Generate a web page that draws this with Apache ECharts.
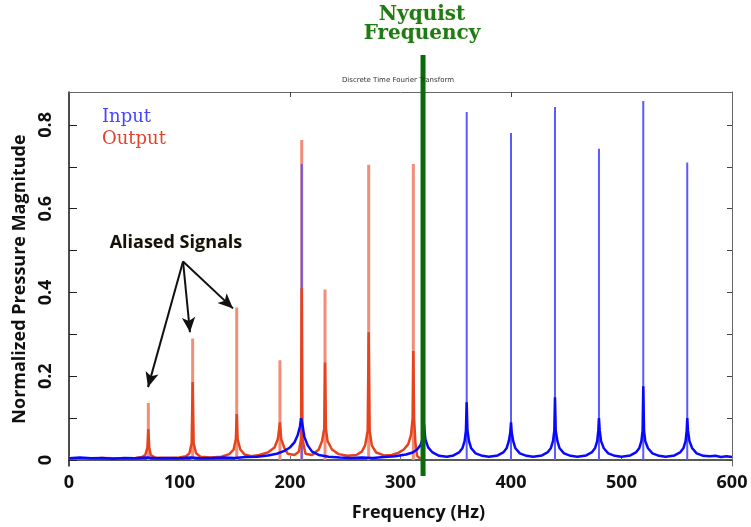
<!DOCTYPE html>
<html><head><meta charset="utf-8">
<script src="https://cdn.jsdelivr.net/npm/echarts@6/dist/echarts.min.js"></script>
<style>html,body{margin:0;padding:0;background:#fff}#c{width:751px;height:527px}</style>
</head><body><div id="c"></div>
<script>
// ---- data ----
const xTickValues = [0, 100, 200, 300, 400, 500, 600];
const yLabelValues = [0, 0.2, 0.4, 0.6, 0.8];
const yTickValues = [0, 0.1, 0.2, 0.3, 0.4, 0.5, 0.6, 0.7, 0.8];
const topTickValues = [200, 400];

const nyquistFreq = 320.4;

// thin spikes (full peak height)
const inputPeakFreq = [210.6, 359.9, 400.0, 439.8, 479.6, 519.7, 559.5];
const inputPeakMag  = [0.707, 0.831, 0.781, 0.843, 0.743, 0.857, 0.710];
const outputPeakFreq = [71.8, 111.9, 151.8, 190.9, 210.6, 231.7, 271.2, 311.6];
const outputPeakMag  = [0.136, 0.290, 0.364, 0.238, 0.764, 0.407, 0.705, 0.707];

// thick traces: baseline, leakage skirts and lower part of each peak  [Hz, magnitude]
const inputTrace = [
  [0,0.004],[10,0.006],[20,0.004],[30,0.005],[40,0.003],[50,0.005],[60,0.004],[70,0.006],[80,0.004],
  [90,0.005],[100,0.004],[110,0.006],[120,0.004],[130,0.005],[140,0.006],[150,0.005],[160,0.007],
  [170,0.008],[180,0.011],[188,0.015],[195,0.022],[200,0.030],[204,0.042],[207,0.060],[209,0.080],
  [210,0.100],[210.6,0.100],[211.5,0.080],[213,0.055],[216,0.035],[220,0.020],[226,0.012],[235,0.008],
  [245,0.006],[255,0.005],[265,0.006],[275,0.005],[285,0.007],[295,0.009],[305,0.013],[311,0.018],
  [315,0.025],[318,0.035],[320,0.050],[321.3,0.085],[322.5,0.050],[325,0.030],[329,0.018],[335,0.010],
  [342,0.008],[348,0.011],[353,0.018],[356,0.028],[358,0.045],[359.2,0.070],[359.9,0.138],[360.6,0.070],
  [362,0.045],[364,0.028],[368,0.016],[374,0.010],[380,0.008],[388,0.011],[393,0.018],[396,0.028],
  [398,0.045],[399.3,0.065],[400,0.090],[400.7,0.065],[402,0.045],[404,0.028],[408,0.016],[414,0.010],
  [420,0.008],[428,0.011],[433,0.018],[436,0.028],[438,0.045],[439.2,0.070],[439.8,0.150],[440.5,0.070],
  [442,0.045],[444,0.028],[448,0.016],[454,0.010],[460,0.008],[468,0.011],[473,0.018],[476,0.028],
  [478,0.045],[479,0.070],[479.6,0.100],[480.3,0.070],[481.5,0.045],[484,0.028],[488,0.016],[494,0.010],
  [500,0.008],[508,0.011],[513,0.018],[516,0.028],[518,0.045],[519.1,0.070],[519.7,0.176],[520.4,0.070],
  [521.5,0.045],[524,0.028],[528,0.016],[534,0.010],[540,0.008],[548,0.011],[553,0.018],[556,0.028],
  [558,0.045],[559,0.070],[559.5,0.100],[560.2,0.070],[561.5,0.045],[564,0.028],[568,0.016],[574,0.010],
  [580,0.009],[585,0.010],[590,0.007],[595,0.009],[600,0.007]
];
const outputTrace = [
  [0,0.003],[10,0.004],[20,0.003],[30,0.005],[40,0.004],[50,0.004],[60,0.005],[66,0.007],[69,0.012],
  [71,0.030],[71.8,0.074],[72.6,0.030],[74,0.012],[78,0.006],[90,0.005],[100,0.006],[106,0.009],
  [109,0.016],[111,0.040],[111.9,0.186],[112.8,0.040],[115,0.016],[119,0.008],[128,0.006],[138,0.008],
  [145,0.014],[149,0.025],[151,0.050],[151.8,0.110],[152.6,0.050],[155,0.025],[159,0.013],[165,0.009],
  [172,0.012],[180,0.018],[186,0.030],[189,0.050],[190.9,0.090],[192,0.050],[195,0.028],[198,0.015],
  [204,0.012],[208,0.020],[210,0.050],[210.6,0.410],[211.3,0.050],[214,0.015],[220,0.012],[226,0.025],
  [229,0.045],[231,0.075],[231.7,0.233],[232.5,0.075],[234,0.045],[238,0.025],[244,0.014],[252,0.010],
  [260,0.012],[265,0.020],[268,0.035],[270.3,0.070],[271.2,0.305],[272.1,0.070],[274,0.035],[278,0.018],
  [285,0.011],[292,0.012],[298,0.017],[303,0.025],[307,0.038],[309.5,0.060],[311,0.100],[311.6,0.260],
  [312.3,0.100],[313.5,0.040],[315,0.010],[318,0.003]
];

// annotation arrows: start and end of each arrow [Hz, magnitude]
const arrowStart = [103.2, 0.474];
const arrowEnds = [[71.5, 0.174], [109.5, 0.305], [148.4, 0.362]];
const annotationPos = [96.8, 0.519];

// ---- build ----
function spikes(freqs, mags) {
  const out = [];
  freqs.forEach((f, i) => { out.push([f, 0], [f, mags[i]], [f, null]); });
  return out;
}

const chart = echarts.init(document.getElementById('c'));
const labelFont = { fontFamily: 'Open Sans', fontWeight: 'bold', color: '#111' };

chart.setOption({
  animation: false,
  backgroundColor: '#fff',
  legend: {
    orient: 'vertical', left: 92, top: 103, itemGap: 4,
    icon: 'none', itemWidth: 0, itemHeight: 14,
    selectedMode: false,
    textStyle: { fontFamily: 'DejaVu Serif', fontSize: 18 },
    data: [
      { name: 'Input', textStyle: { color: '#4646ff' } },
      { name: 'Output', textStyle: { color: '#e2432e' } }
    ]
  },
  graphic: [
    { type: 'text', x: 422, y: 5, z: 100,
      style: { text: 'Nyquist\nFrequency', align: 'center', verticalAlign: 'top',
        font: 'bold 20px "DejaVu Serif"', lineHeight: 19, fill: '#1d7a1d',
        textShadowColor: 'rgba(220,190,60,0.4)', textShadowBlur: 2 } },
    { type: 'text', x: 398, y: 77, z: 100,
      style: { text: 'Discrete Time Fourier Transform', align: 'center', verticalAlign: 'top',
        font: '7px "DejaVu Sans"', fill: '#333' } }
  ],
  grid: [
    { left: 69, right: 19, top: 92, bottom: 60 },
    { left: 69, right: 19, top: 55, bottom: 51 }
  ],
  xAxis: [
    { type: 'value', gridIndex: 0, min: 0, max: 600, interval: 100, position: 'bottom',
      name: 'Frequency (Hz)', nameLocation: 'middle', nameGap: 38,
      nameTextStyle: Object.assign({ fontSize: 18, padding: [0, 0, 0, 36] }, labelFont),
      axisLine: { lineStyle: { color: '#222', width: 1.5 } },
      axisTick: { inside: true, length: 4, lineStyle: { color: '#777' } },
      axisLabel: Object.assign({ fontSize: 18, margin: 8 }, labelFont),
      splitLine: { show: false } },
    { type: 'value', gridIndex: 0, min: 0, max: 600, position: 'top',
      axisLine: { show: true, onZero: false, lineStyle: { color: '#666', width: 1 } },
      axisTick: { show: true, inside: true, length: 5, customValues: topTickValues, lineStyle: { color: '#444' } },
      axisLabel: { show: false }, splitLine: { show: false } },
    { type: 'value', gridIndex: 1, min: 0, max: 600, show: false }
  ],
  yAxis: [
    { type: 'value', gridIndex: 0, min: -0.0143, max: 0.8786, position: 'left',
      name: 'Normalized Pressure Magnitude', nameLocation: 'middle', nameGap: 37,
      nameTextStyle: Object.assign({ fontSize: 18 }, labelFont),
      axisLine: { show: true, onZero: false, lineStyle: { color: '#111', width: 1.5 } },
      axisTick: { show: true, inside: true, length: 8, customValues: yTickValues, lineStyle: { color: '#222' } },
      axisLabel: Object.assign({ fontSize: 18, rotate: 90, margin: 14, customValues: yLabelValues }, labelFont),
      splitLine: { show: false } },
    { type: 'value', gridIndex: 0, min: -0.0143, max: 0.8786, position: 'right',
      axisLine: { show: true, onZero: false, lineStyle: { color: '#666', width: 1 } },
      axisTick: { show: true, inside: true, length: 5, customValues: yTickValues, lineStyle: { color: '#444' } },
      axisLabel: { show: false }, splitLine: { show: false } },
    { type: 'value', gridIndex: 1, min: 0, max: 1, show: false }
  ],
  series: [
    { type: 'line', name: 'Output', xAxisIndex: 0, yAxisIndex: 0, symbol: 'none', silent: true,
      data: spikes(outputPeakFreq, outputPeakMag), connectNulls: false,
      itemStyle: { color: '#e2432e' },
      lineStyle: { color: '#f28d78', width: 3, join: 'bevel' }, z: 2 },
    { type: 'line', name: 'Input', xAxisIndex: 0, yAxisIndex: 0, symbol: 'none', silent: true,
      data: spikes(inputPeakFreq, inputPeakMag), connectNulls: false,
      itemStyle: { color: '#4646ff' },
      lineStyle: { color: '#5a5aff', width: 2, join: 'bevel' }, z: 3 },
    { type: 'line', name: 'Output', xAxisIndex: 0, yAxisIndex: 0, symbol: 'none', silent: true,
      data: outputTrace, itemStyle: { color: '#e2432e' },
      lineStyle: { color: '#e6431c', width: 2.5, join: 'bevel' }, z: 4,
      markLine: {
        silent: true, symbol: ['none', 'arrow'], symbolSize: [10, 15],
        lineStyle: { color: '#111', width: 2, type: 'solid' },
        label: { show: false },
        data: arrowEnds.map(e => [{ coord: arrowStart }, { coord: e }])
      },
      markPoint: {
        silent: true, symbol: 'circle', symbolSize: 0,
        data: [{ coord: annotationPos }],
        label: { show: true, position: 'inside', formatter: 'Aliased Signals',
          fontFamily: 'Open Sans', fontWeight: 'bold', fontSize: 18, color: '#111',
          textShadowColor: 'rgba(230,200,80,0.35)', textShadowBlur: 2 }
      } },
    { type: 'line', name: 'Input', xAxisIndex: 0, yAxisIndex: 0, symbol: 'none', silent: true,
      data: inputTrace, itemStyle: { color: '#4646ff' },
      lineStyle: { color: '#0808ff', width: 2.5, join: 'bevel' }, z: 5 },
    { type: 'line', name: 'Nyquist', xAxisIndex: 2, yAxisIndex: 2, symbol: 'none', silent: true,
      data: [[nyquistFreq, 0], [nyquistFreq, 1]],
      lineStyle: { color: '#0b6b0b', width: 5 }, z: 10 }
  ]
});
</script></body></html>
